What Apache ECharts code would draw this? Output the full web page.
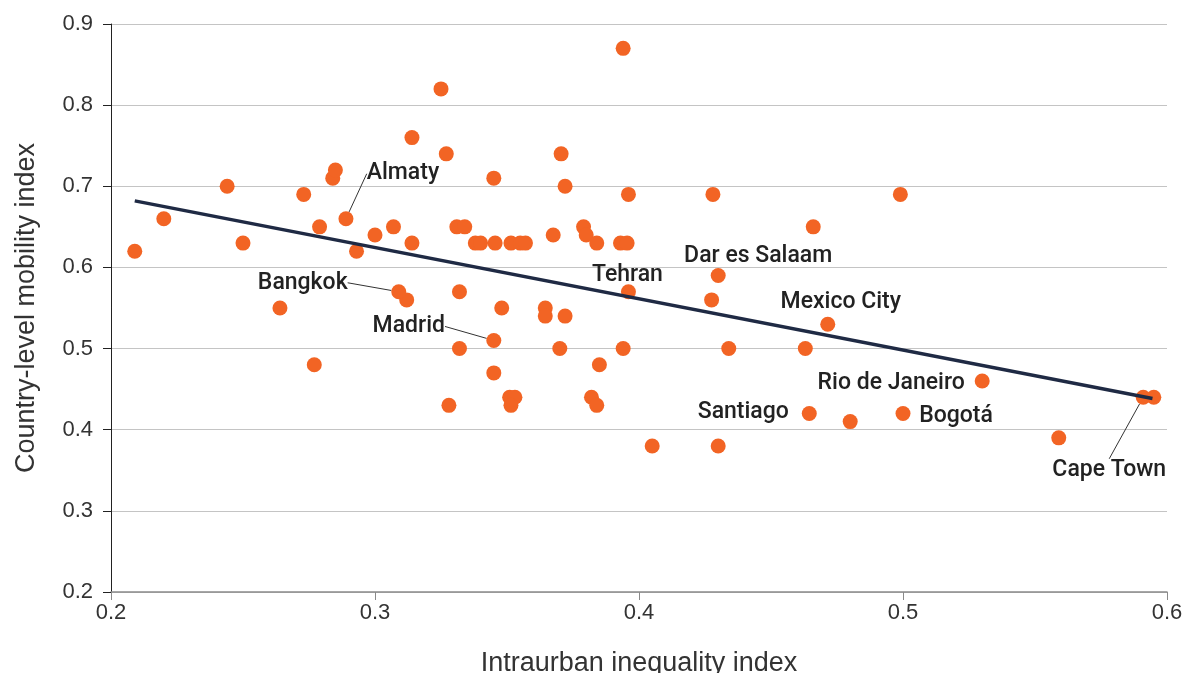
<!DOCTYPE html>
<html>
<head>
<meta charset="utf-8">
<title>Mobility vs. intraurban inequality</title>
<script src="https://cdn.jsdelivr.net/npm/echarts@6/dist/echarts.min.js"></script>
<style>
  html, body { margin: 0; padding: 0; background: #ffffff; }
  #chart { width: 1184px; height: 673px; }
</style>
</head>
<body>
<div id="chart"></div>
<script>
// Cities without a name label: intraurban inequality (x) and country-level mobility (y)
const inequality = [
  0.209, 0.220, 0.244, 0.250, 0.264, 0.273, 0.277, 0.279, 0.284, 0.285,
  0.293, 0.300, 0.307, 0.312, 0.314, 0.314, 0.325, 0.327, 0.328, 0.331,
  0.334, 0.332, 0.332, 0.338, 0.340, 0.345, 0.3455, 0.348, 0.345, 0.351,
  0.353, 0.3515, 0.3515, 0.355, 0.357, 0.3645, 0.3645, 0.3675, 0.370, 0.3705,
  0.372, 0.372, 0.379, 0.380, 0.382, 0.384, 0.384, 0.385, 0.393, 0.394,
  0.394, 0.3955, 0.396, 0.405, 0.4275, 0.428, 0.430, 0.434, 0.463, 0.466,
  0.480, 0.499, 0.559, 0.595
];
const mobility = [
  0.62, 0.66, 0.70, 0.63, 0.55, 0.69, 0.48, 0.65, 0.71, 0.72,
  0.62, 0.64, 0.65, 0.56, 0.63, 0.76, 0.82, 0.74, 0.43, 0.65,
  0.65, 0.57, 0.50, 0.63, 0.63, 0.71, 0.63, 0.55, 0.47, 0.44,
  0.44, 0.43, 0.63, 0.63, 0.63, 0.55, 0.54, 0.64, 0.50, 0.74,
  0.70, 0.54, 0.65, 0.64, 0.44, 0.63, 0.43, 0.48, 0.63, 0.50,
  0.87, 0.63, 0.69, 0.38, 0.56, 0.69, 0.38, 0.50, 0.50, 0.65,
  0.41, 0.69, 0.39, 0.44
];

// Named cities
const cityNames = ['Almaty', 'Bangkok', 'Madrid', 'Tehran', 'Dar es Salaam',
  'Mexico City', 'Rio de Janeiro', 'Santiago', 'Bogotá', 'Cape Town'];
const cityInequality = [0.289, 0.309, 0.345, 0.396, 0.430, 0.4715, 0.530, 0.4645, 0.500, 0.591];
const cityMobility = [0.66, 0.57, 0.51, 0.57, 0.59, 0.53, 0.46, 0.42, 0.42, 0.44];

// Fitted trend line end points
const trendInequality = [0.209, 0.5945];
const trendMobility = [0.682, 0.4385];

// Axis ticks
const xTicks = [0.2, 0.3, 0.4, 0.5, 0.6];
const yTicks = [0.2, 0.3, 0.4, 0.5, 0.6, 0.7, 0.8, 0.9];

// Label placement relative to each named point (pixels), and which ones get a leader line
const labelShift = {
  'Almaty': [57, -45], 'Bangkok': [-96, -9], 'Madrid': [-85, -14],
  'Tehran': [-1, -17], 'Dar es Salaam': [40, -19], 'Mexico City': [13, -22],
  'Rio de Janeiro': [-91, 2], 'Santiago': [-66, -1], 'Bogotá': [53, 3],
  'Cape Town': [-34, 73]
};
const leader = { 'Almaty': true, 'Bangkok': true, 'Madrid': true, 'Cape Town': true };

const ORANGE = '#F26424';
const NAVY = '#1F2A44';
const AXIS_FONT = '"Liberation Sans", Arial, sans-serif';

const plainPoints = inequality.map((x, i) => [x, mobility[i]]);
const namedPoints = cityNames.map((name, i) => ({
  name: name,
  value: [cityInequality[i], cityMobility[i]],
  labelLine: { show: !!leader[name] }
}));
const trendPoints = trendInequality.map((x, i) => [x, trendMobility[i]]);

const chart = echarts.init(document.getElementById('chart'), null, { renderer: 'canvas' });

chart.setOption({
  animation: false,
  backgroundColor: '#ffffff',
  grid: {
    left: 111, right: 17, top: 24, bottom: 81,
    containLabel: false,
    outerBoundsMode: 'none'
  },
  xAxis: {
    type: 'value',
    min: xTicks[0],
    max: xTicks[xTicks.length - 1],
    interval: 0.1,
    name: 'Intraurban inequality index',
    nameLocation: 'middle',
    nameGap: 58,
    nameTextStyle: { fontFamily: AXIS_FONT, fontSize: 27, color: '#333333' },
    axisLine: { show: true, lineStyle: { color: '#8a8a8a', width: 1.5 } },
    axisTick: { show: true, length: 8, lineStyle: { color: '#8a8a8a' } },
    axisLabel: {
      margin: 10,
      fontFamily: AXIS_FONT, fontSize: 22, color: '#333333',
      formatter: v => v.toFixed(1)
    },
    splitLine: { show: false }
  },
  yAxis: {
    type: 'value',
    min: yTicks[0],
    max: yTicks[yTicks.length - 1],
    interval: 0.1,
    name: 'Country-level mobility index',
    nameLocation: 'middle',
    nameGap: 71,
    nameTextStyle: { fontFamily: AXIS_FONT, fontSize: 27, color: '#333333' },
    axisLine: { show: true, lineStyle: { color: '#222222', width: 1 } },
    axisTick: { show: true, length: 8, lineStyle: { color: '#222222' } },
    axisLabel: {
      margin: 18,
      fontFamily: AXIS_FONT, fontSize: 22, color: '#333333',
      formatter: v => v.toFixed(1)
    },
    splitLine: { show: true, lineStyle: { color: '#c4c4c4', width: 1 } }
  },
  series: [
    {
      type: 'scatter',
      data: plainPoints,
      symbol: 'circle',
      symbolSize: 15,
      itemStyle: { color: ORANGE, opacity: 1 },
      z: 2
    },
    {
      type: 'scatter',
      data: namedPoints,
      symbol: 'circle',
      symbolSize: 15,
      itemStyle: { color: ORANGE, opacity: 1 },
      label: {
        show: true,
        position: 'inside',
        formatter: p => p.name,
        fontFamily: 'Roboto, sans-serif',
        fontWeight: 500,
        fontSize: 23,
        color: '#222222',
        padding: [3, 6]
      },
      labelLine: {
        show: false,
        lineStyle: { color: '#333333', width: 1 }
      },
      labelLayout: params => {
        const s = labelShift[cityNames[params.dataIndex]];
        return { dx: s[0], dy: s[1] };
      },
      z: 2
    },
    {
      type: 'line',
      data: trendPoints,
      showSymbol: false,
      symbol: 'none',
      lineStyle: { color: NAVY, width: 3.5 },
      z: 3,
      silent: true
    }
  ]
});
</script>
</body>
</html>
